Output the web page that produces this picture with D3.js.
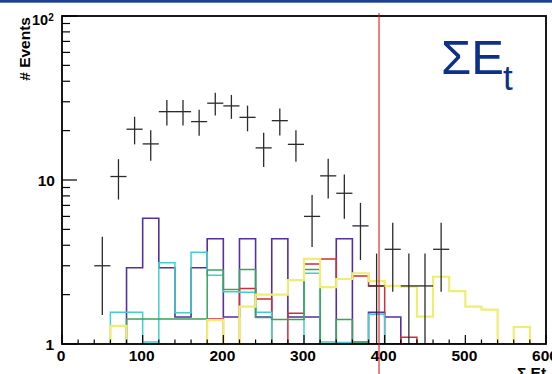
<!DOCTYPE html>
<html>
<head>
<meta charset="utf-8">
<script src="https://cdn.jsdelivr.net/npm/d3@7"></script>
<style>
  html, body { margin: 0; padding: 0; background: #ffffff; }
  svg { display: block; }
</style>
</head>
<body>
<svg id="chart" width="552" height="374"></svg>
<script>
// Sum of transverse energy: observed events vs. overlaid MC samples, 20-unit bins
const binStart = [0, 20, 40, 60, 80, 100, 120, 140, 160, 180, 200, 220, 240, 260, 280,
                  300, 320, 340, 360, 380, 400, 420, 440, 460, 480, 500, 520, 540, 560, 580];
const binWidth = 20;

const purpleHist = [0, 0, 0, 0, 2.92, 5.84, 2.92, 1.46, 2.92, 4.38, 1.46, 4.38, 1.46, 4.38, 1.46,
                    1.46, 0, 4.38, 0, 1.56, 1.46, 0, 0, 0, 0, 0, 0, 0, 0, 0];
const cyanHist   = [0, 0, 0, 1.56, 1.56, 1.03, 3.13, 1.55, 3.62, 2.63, 2.08, 2.07, 1.56, 0, 0,
                    2.7, 1.03, 1.02, 1.03, 1.52, 0, 0, 0, 0, 0, 0, 0, 0, 0, 0];
const greenHist  = [0, 0, 0, 0, 1.42, 1.42, 1.42, 1.42, 1.42, 2.83, 2.15, 2.85, 1.45, 1.41, 1.41,
                    2.85, 0, 1.41, 1.03, 0, 0, 0, 0, 0, 0, 0, 0, 0, 0, 0];
const redHist    = [0, 0, 0, 0, 0, 0, 0, 0, 0, 1.42, 0, 2.18, 1.88, 0, 1.54,
                    3.07, 3.3, 2.49, 2.6, 2.26, 0, 1.1, 0, 0, 0, 0, 0, 0, 0, 0];
const yellowHist = [0, 0, 0, 1.29, 0, 0, 0, 0, 0, 1.4, 0, 1.69, 2.0, 2.0, 2.45,
                    3.3, 2.22, 2.49, 2.7, 2.42, 2.26, 2.24, 1.47, 2.57, 2.1, 1.69, 1.62, 0, 1.27, 0];

// Observed data: bin centres, contents and symmetric errors
const dataX   = [50, 70, 90, 110, 130, 150, 170, 190, 210, 230, 250, 270, 290, 310, 330, 350, 370, 390, 410, 430, 450, 470];
const dataY   = [3.0, 10.5, 20.4, 16.6, 26.1, 26.1, 22.7, 29.4, 28.3, 24.1, 15.7, 23.0, 16.5, 6.0, 10.6, 8.3, 5.25, 2.26, 3.78, 2.26, 2.26, 3.78];
const dataErr = [1.5, 2.9, 3.9, 3.5, 4.6, 4.6, 4.1, 4.7, 4.7, 4.3, 3.7, 4.3, 3.6, 2.1, 2.9, 2.5, 2.0, 1.3, 1.7, 1.3, 1.3, 1.7];

const xMajorTicks = [0, 100, 200, 300, 400, 500, 600];
const xMinorTicks = [20, 40, 60, 80, 120, 140, 160, 180, 220, 240, 260, 280, 320, 340, 360, 380,
                     420, 440, 460, 480, 520, 540, 560, 580];
const yMajorTicks = [1, 10, 100];
const yMinorTicks = [2, 3, 4, 5, 6, 7, 8, 9, 20, 30, 40, 50, 60, 70, 80, 90];
const cutValue = 393;

const svg = d3.select("#chart");
const frame = { left: 62, right: 546, top: 16, bottom: 344 };

const x = d3.scaleLinear().domain([0, 600]).range([frame.left, frame.right]);
const y = d3.scaleLog().domain([1, 100]).range([frame.bottom, frame.top]);
const yc = v => (v <= 1 ? frame.bottom : Math.max(frame.top, y(v)));

// header rule
svg.append("rect").attr("x", 0).attr("y", 0).attr("width", 552).attr("height", 2.7).attr("fill", "#1d3f93");

svg.append("defs").append("clipPath").attr("id", "plotArea")
  .append("rect").attr("x", frame.left).attr("y", frame.top)
  .attr("width", frame.right - frame.left).attr("height", frame.bottom - frame.top);

const plot = svg.append("g").attr("clip-path", "url(#plotArea)");

// step histograms
const step = d3.line().x(d => x(d[0])).y(d => yc(d[1])).curve(d3.curveStepAfter);
function histPoints(vals) {
  const pts = binStart.map((b, i) => [b, vals[i]]);
  pts.push([binStart[binStart.length - 1] + binWidth, vals[vals.length - 1]]);
  return pts;
}
const series = [
  { vals: purpleHist, color: "#55309a", width: 1.6 },
  { vals: redHist,    color: "#cf2d3a", width: 1.5 },
  { vals: cyanHist,   color: "#3fcfcf", width: 1.5 },
  { vals: greenHist,  color: "#3aa35a", width: 1.5 },
  { vals: yellowHist, color: "#eeee72", width: 2.2 }
];
series.forEach(s => {
  plot.append("path")
    .attr("d", step(histPoints(s.vals)))
    .attr("fill", "none")
    .attr("stroke", s.color)
    .attr("stroke-width", s.width);
});

// data points with error bars
const pts = plot.append("g").attr("stroke", "#2b2b2b").attr("stroke-width", 1.3);
dataX.forEach((cx, i) => {
  const v = dataY[i], e = dataErr[i];
  pts.append("line")
    .attr("x1", x(cx)).attr("x2", x(cx))
    .attr("y1", yc(v + e)).attr("y2", yc(v - e));
  pts.append("line")
    .attr("x1", x(cx - binWidth / 2)).attr("x2", x(cx + binWidth / 2))
    .attr("y1", yc(v)).attr("y2", yc(v));
});

// frame
svg.append("rect")
  .attr("x", frame.left).attr("y", frame.top)
  .attr("width", frame.right - frame.left).attr("height", frame.bottom - frame.top)
  .attr("fill", "none").attr("stroke", "#000").attr("stroke-width", 1.8);

// ticks (drawn inward)
const tickG = svg.append("g").attr("stroke", "#000").attr("stroke-width", 1.2);
xMajorTicks.forEach(t => tickG.append("line")
  .attr("x1", x(t)).attr("x2", x(t)).attr("y1", frame.bottom).attr("y2", frame.bottom - 9));
xMinorTicks.forEach(t => tickG.append("line")
  .attr("x1", x(t)).attr("x2", x(t)).attr("y1", frame.bottom).attr("y2", frame.bottom - 4.5));
yMajorTicks.forEach(t => tickG.append("line")
  .attr("x1", frame.left).attr("x2", frame.left + 15).attr("y1", y(t)).attr("y2", y(t)));
yMinorTicks.forEach(t => tickG.append("line")
  .attr("x1", frame.left).attr("x2", frame.left + 8).attr("y1", y(t)).attr("y2", y(t)));

const font = "'Liberation Sans', Arial, Helvetica, sans-serif";

// x tick labels
svg.append("g").selectAll("text").data(xMajorTicks).join("text")
  .attr("x", d => x(d) - 1).attr("y", 361)
  .attr("text-anchor", "middle")
  .attr("font-family", font).attr("font-weight", "bold").attr("font-size", 15.5)
  .attr("fill", "#000").text(d => d);

// y tick labels
const yl = svg.append("g").attr("font-family", font).attr("font-weight", "bold").attr("fill", "#000");
yl.append("text").attr("x", 54).attr("y", y(1) + 5.5).attr("text-anchor", "end")
  .attr("font-size", 15.5).text("1");
yl.append("text").attr("x", 55).attr("y", y(10) + 5.5).attr("text-anchor", "end")
  .attr("font-size", 15.5).text("10");
const hundred = yl.append("text").attr("x", 32).attr("y", y(100) + 9).attr("font-size", 14.5);
hundred.append("tspan").text("10");
hundred.append("tspan").attr("dy", -4.5).attr("font-size", 10).text("2");

// axis titles
svg.append("text")
  .attr("transform", "translate(30,17) rotate(-90)")
  .attr("text-anchor", "end")
  .attr("font-family", font).attr("font-weight", "bold").attr("font-size", 15.5)
  .attr("fill", "#000").text("# Events");
svg.append("text")
  .attr("x", 517).attr("y", 378)
  .attr("font-family", font).attr("font-weight", "bold").attr("font-size", 15.5)
  .attr("fill", "#000").text("Σ Et");

// selection cut marker
svg.append("line")
  .attr("x1", x(cutValue)).attr("x2", x(cutValue))
  .attr("y1", 13).attr("y2", 374)
  .attr("stroke", "#e01b1b").attr("stroke-width", 1.1);

// panel title
const title = svg.append("text")
  .attr("x", 441).attr("y", 73.5)
  .attr("font-family", font).attr("font-size", 49)
  .attr("fill", "#0d3088");
title.append("tspan").text("ΣE");
title.append("tspan").attr("dx", -1).attr("dy", 16).attr("font-size", 35).text("t");
</script>
</body>
</html>
